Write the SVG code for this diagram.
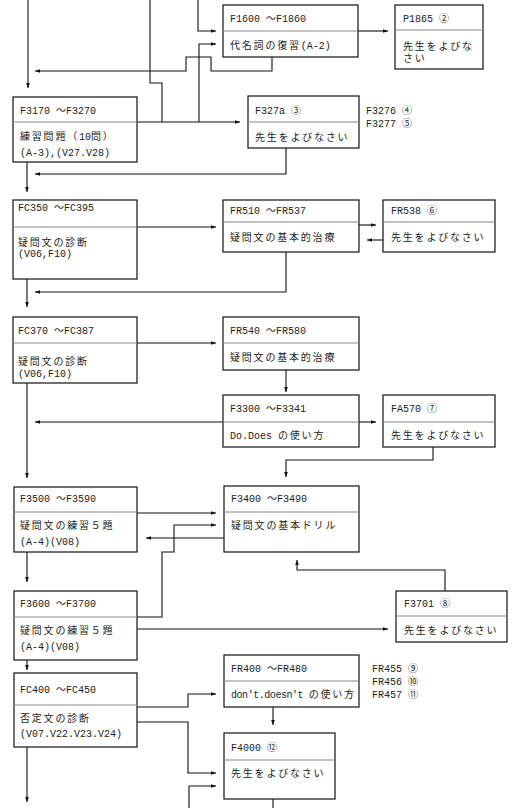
<svg xmlns="http://www.w3.org/2000/svg" width="519" height="808" viewBox="0 0 519 808">
<style>
.box{fill:#fff;stroke:#111;stroke-width:1.2}
.dv{stroke:#888;stroke-width:1}
.t{font-family:"Liberation Mono","Noto Sans CJK JP",monospace;font-size:10px;fill:#222}
.j{letter-spacing:1.8px}
.s{letter-spacing:-0.45px}
.c{fill:none;stroke:#111;stroke-width:1.1}
.c path{marker-end:url(#a)}
.c path.n{marker-end:none}
</style>
<defs>
<marker id="a" viewBox="0 0 6 6" refX="6" refY="3" markerWidth="5" markerHeight="5" orient="auto" markerUnits="userSpaceOnUse"><path d="M0,0.8 L6,3 L0,5.2 z" fill="#111"/></marker>
</defs>
<rect width="519" height="808" fill="#fff"/>
<g class="c" id="connectors">
<path d="M28,0 V88"/>
<path class="n" d="M150,0 V83 H162 V122"/>
<path d="M198,0 V31 H216"/>
<path d="M137,122 H240"/>
<path d="M199,122 V44 H216"/>
<path d="M272,57 V71 H211 V57 H186 V71 H35"/>
<path d="M358,31 H388"/>
<path d="M286,148 V174 H35"/>
<path d="M27,162 V192"/>
<path d="M137,227 H216"/>
<path d="M359,225 H376"/>
<path d="M383,240 H367"/>
<path d="M286,252 V292 H35"/>
<path d="M27,279 V307"/>
<path d="M137,343 H216"/>
<path d="M286,370 V392"/>
<path d="M223,422 H35"/>
<path d="M359,422 H376"/>
<path d="M433,447 V460 H286 V477"/>
<path d="M27,383 V478"/>
<path d="M137,513 H216"/>
<path d="M137,617 H162 V552 H174 V525 H216"/>
<path d="M224,538 H146"/>
<path d="M445,591 V570 H297 V560"/>
<path d="M27,552 V582"/>
<path d="M137,629 H388"/>
<path d="M27,660 V670"/>
<path d="M137,707 H188 V694 H216"/>
<path d="M137,722 H188 V773 H216"/>
<path d="M189,808 V786 H216"/>
<path d="M273,707 V725"/>
<path class="n" d="M273,799 V808"/>
<path d="M27,747 V802"/>
</g>
<g id="F1600">
<rect class="box" x="223" y="5" width="135" height="52"/><line class="dv" x1="223" y1="31" x2="358" y2="31"/>
<text class="t" x="230" y="22">F1600 ～F1860</text>
<text class="t" x="230" y="49"><tspan class="j">代名詞の復習</tspan>(A-2)</text>
</g>
<g id="P1865">
<rect class="box" x="395" y="5" width="88" height="64"/><line class="dv" x1="395" y1="30" x2="483" y2="30"/>
<text class="t" x="403" y="22">P1865 ②</text>
<text class="t j" x="403" y="50">先生をよびな</text>
<text class="t j" x="403" y="62">さい</text>
</g>
<g id="F3170">
<rect class="box" x="13" y="97" width="124" height="65"/><line class="dv" x1="13" y1="122" x2="137" y2="122"/>
<text class="t" x="20" y="114">F3170 ～F3270</text>
<text class="t" x="20" y="140"><tspan class="j">練習問題（</tspan>10<tspan class="j">問）</tspan></text>
<text class="t" x="20" y="156">(A-3),(V27.V28)</text>
</g>
<g id="F327a">
<rect class="box" x="248" y="96" width="111" height="52"/><line class="dv" x1="248" y1="122" x2="359" y2="122"/>
<text class="t" x="255" y="114">F327a ③</text>
<text class="t j" x="255" y="141">先生をよびなさい</text>
</g>
<g id="F3276">
<text class="t" x="366" y="114">F3276 ④</text>
<text class="t" x="366" y="127">F3277 ⑤</text>
</g>
<g id="FC350">
<rect class="box" x="13" y="200" width="124" height="79"/><line class="dv" x1="13" y1="227" x2="137" y2="227"/>
<text class="t" x="18" y="211">FC350 ～FC395</text>
<text class="t j" x="18" y="246">疑問文の診断</text>
<text class="t" x="18" y="257">(V06,F10)</text>
</g>
<g id="FR510">
<rect class="box" x="223" y="200" width="136" height="52"/><line class="dv" x1="223" y1="222" x2="359" y2="222"/>
<text class="t" x="230" y="214">FR510 ～FR537</text>
<text class="t j" x="230" y="241">疑問文の基本的治療</text>
</g>
<g id="FR538">
<rect class="box" x="383" y="200" width="112" height="52"/><line class="dv" x1="383" y1="222" x2="495" y2="222"/>
<text class="t" x="391" y="214">FR538 ⑥</text>
<text class="t j" x="391" y="241">先生をよびなさい</text>
</g>
<g id="FC370">
<rect class="box" x="13" y="317" width="124" height="66"/><line class="dv" x1="13" y1="343" x2="137" y2="343"/>
<text class="t" x="18" y="334">FC370 ～FC387</text>
<text class="t j" x="18" y="365">疑問文の診断</text>
<text class="t" x="18" y="377">(V06,F10)</text>
</g>
<g id="FR540">
<rect class="box" x="223" y="317" width="136" height="53"/><line class="dv" x1="223" y1="343" x2="359" y2="343"/>
<text class="t" x="230" y="334">FR540 ～FR580</text>
<text class="t j" x="230" y="361">疑問文の基本的治療</text>
</g>
<g id="F3300">
<rect class="box" x="223" y="395" width="136" height="52"/><line class="dv" x1="223" y1="422" x2="359" y2="422"/>
<text class="t" x="230" y="412">F3300 ～F3341</text>
<text class="t" x="230" y="439">Do.Does <tspan class="j">の使い方</tspan></text>
</g>
<g id="FA570">
<rect class="box" x="383" y="395" width="112" height="52"/><line class="dv" x1="383" y1="422" x2="495" y2="422"/>
<text class="t" x="391" y="412">FA570 ⑦</text>
<text class="t j" x="391" y="439">先生をよびなさい</text>
</g>
<g id="F3400">
<rect class="box" x="224" y="486" width="135" height="66"/><line class="dv" x1="224" y1="512" x2="359" y2="512"/>
<text class="t" x="231" y="502">F3400 ～F3490</text>
<text class="t j" x="231" y="529">疑問文の基本ドリル</text>
</g>
<g id="F3500">
<rect class="box" x="14" y="487" width="123" height="65"/><line class="dv" x1="14" y1="512" x2="137" y2="512"/>
<text class="t" x="20" y="502">F3500 ～F3590</text>
<text class="t" x="20" y="529"><tspan class="j">疑問文の練習５題</tspan></text>
<text class="t" x="20" y="545">(A-4)(V08)</text>
</g>
<g id="F3600">
<rect class="box" x="14" y="591" width="123" height="69"/><line class="dv" x1="14" y1="617" x2="137" y2="617"/>
<text class="t" x="20" y="607">F3600 ～F3700</text>
<text class="t" x="20" y="634"><tspan class="j">疑問文の練習５題</tspan></text>
<text class="t" x="20" y="650">(A-4)(V08)</text>
</g>
<g id="F3701">
<rect class="box" x="396" y="591" width="111" height="51"/><line class="dv" x1="396" y1="616" x2="507" y2="616"/>
<text class="t" x="404" y="607">F3701 ⑧</text>
<text class="t j" x="404" y="634">先生をよびなさい</text>
</g>
<g id="FC400">
<rect class="box" x="14" y="673" width="123" height="74"/><line class="dv" x1="14" y1="705" x2="137" y2="705"/>
<text class="t" x="20" y="693">FC400 ～FC450</text>
<text class="t j" x="20" y="722">否定文の診断</text>
<text class="t" x="20" y="737">(V07.V22.V23.V24)</text>
</g>
<g id="FR400">
<rect class="box" x="224" y="655" width="135" height="52"/><line class="dv" x1="224" y1="681" x2="359" y2="681"/>
<text class="t" x="231" y="672">FR400 ～FR480</text>
<text class="t" x="231" y="698"><tspan class="s">don't.doesn't </tspan><tspan class="j">の使い方</tspan></text>
</g>
<g id="FR455">
<text class="t" x="372" y="672">FR455 ⑨</text>
<text class="t" x="372" y="685">FR456 ⑩</text>
<text class="t" x="372" y="698">FR457 ⑪</text>
</g>
<g id="F4000">
<rect class="box" x="224" y="733" width="111" height="66"/><line class="dv" x1="224" y1="760" x2="335" y2="760"/>
<text class="t" x="231" y="751">F4000 ⑫</text>
<text class="t j" x="231" y="777">先生をよびなさい</text>
</g>
</svg>
